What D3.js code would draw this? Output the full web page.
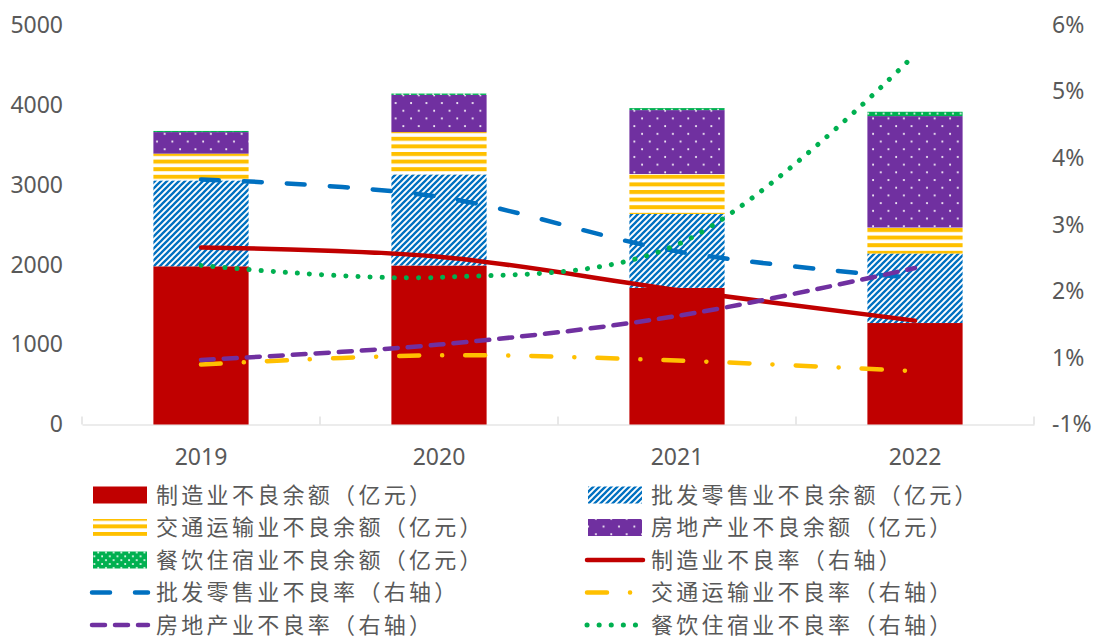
<!DOCTYPE html>
<html><head><meta charset="utf-8">
<script src="https://cdn.jsdelivr.net/npm/d3@7"></script>
<style>
html,body{margin:0;padding:0;background:#fff;}
svg{display:block;font-family:"Noto Sans CJK SC","Noto Sans",sans-serif;}
</style></head>
<body>
<svg id="chart" width="1094" height="641"></svg>
<script>
// ---- data ----
const years = ["2019","2020","2021","2022"];
const mfgBal = [1980, 1990, 1710, 1270];       // 制造业不良余额
const wholesaleBal = [1075, 1140, 925, 870];   // 批发零售业不良余额
const transportBal = [335, 530, 500, 325];     // 交通运输业不良余额
const realEstateBal = [270, 465, 800, 1395];   // 房地产业不良余额
const cateringBal = [14, 17, 25, 54];          // 餐饮住宿业不良余额
const mfgRate = [2.66, 2.52, 2.02, 1.56];      // 制造业不良率 (%)
const wholesaleRate = [3.68, 3.42, 2.60, 2.20];
const transportRate = [0.90, 1.04, 0.96, 0.80];
const realEstateRate = [0.97, 1.20, 1.63, 2.35];
const cateringRate = [2.39, 2.21, 2.70, 5.56];
const leftTicks = [0, 1000, 2000, 3000, 4000, 5000];
const rightTicks = [0, 1, 2, 3, 4, 5, 6];
const rightTickLabels = ["-1%", "1%", "2%", "3%", "4%", "5%", "6%"];

const barSeries = [
  {name:"制造业不良余额（亿元）", values: mfgBal, fill:"#C00000"},
  {name:"批发零售业不良余额（亿元）", values: wholesaleBal, fill:"url(#hatchBlue)"},
  {name:"交通运输业不良余额（亿元）", values: transportBal, fill:"url(#stripeYellow)"},
  {name:"房地产业不良余额（亿元）", values: realEstateBal, fill:"url(#dotPurple)"},
  {name:"餐饮住宿业不良余额（亿元）", values: cateringBal, fill:"url(#dotGreen)"}
];
const lineSeries = [
  {name:"制造业不良率（右轴）", values: mfgRate, color:"#C00000", dash:null, w:4.5},
  {name:"批发零售业不良率（右轴）", values: wholesaleRate, color:"#0070C0", dash:"18 25", w:4.5},
  {name:"交通运输业不良率（右轴）", values: transportRate, color:"#FFC000", dash:"20 23 0.1 23", w:4.5},
  {name:"房地产业不良率（右轴）", values: realEstateRate, color:"#7030A0", dash:"13 10", w:4.5},
  {name:"餐饮住宿业不良率（右轴）", values: cateringRate, color:"#00B050", dash:"0.1 12", w:5}
];

const svg = d3.select("#chart");
const textColor = "#595959";

// ---- patterns ----
const defs = svg.append("defs");
const ph = defs.append("pattern").attr("id","hatchBlue").attr("patternUnits","userSpaceOnUse")
  .attr("width",6).attr("height",6);
ph.append("rect").attr("width",6).attr("height",6).attr("fill","#fff");
ph.append("path").attr("d","M-1,1 l2,-2 M0,6 l6,-6 M5,7 l2,-2").attr("stroke","#0070C0").attr("stroke-width",2.3);

const py = defs.append("pattern").attr("id","stripeYellow").attr("patternUnits","userSpaceOnUse")
  .attr("width",8).attr("height",7.6);
py.append("rect").attr("width",8).attr("height",7.6).attr("fill","#fff");
py.append("rect").attr("y",0).attr("width",8).attr("height",4).attr("fill","#FFC000");

const pp = defs.append("pattern").attr("id","dotPurple").attr("patternUnits","userSpaceOnUse")
  .attr("width",15.4).attr("height",15.4);
pp.append("rect").attr("width",15.4).attr("height",15.4).attr("fill","#7030A0");
pp.append("circle").attr("cx",3).attr("cy",3).attr("r",1).attr("fill","#fff");
pp.append("circle").attr("cx",10.7).attr("cy",10.7).attr("r",1).attr("fill","#fff");

const pg = defs.append("pattern").attr("id","dotGreen").attr("patternUnits","userSpaceOnUse")
  .attr("width",7.7).attr("height",7.7);
pg.append("rect").attr("width",7.7).attr("height",7.7).attr("fill","#00B050");
pg.append("circle").attr("cx",2).attr("cy",2).attr("r",1).attr("fill","#fff");
pg.append("circle").attr("cx",5.85).attr("cy",5.85).attr("r",1).attr("fill","#fff");

// ---- scales ----
const x = d3.scaleBand().domain(years).range([82, 1034]).paddingInner(0.6).paddingOuter(0.3);
const yL = d3.scaleLinear().domain([0,5000]).range([424.5, 25]);
const yR = d3.scaleLinear().domain([0,6]).range([424.5, 25]);

// ---- axes ----
const gx = svg.append("g").attr("transform","translate(0,424.5)")
  .call(d3.axisBottom(x).tickSize(0).tickSizeOuter(0).tickPadding(24));
gx.select(".domain").attr("stroke","#d9d9d9").attr("stroke-width",1.2);
gx.selectAll("text").attr("font-size",23).attr("fill",textColor).attr("font-family","'Noto Sans',sans-serif");
// category boundary tick marks (pointing up)
const edgeXs = years.map(d => x(d) + x.bandwidth()/2 - x.step()/2)
  .concat([x(years[years.length-1]) + x.bandwidth()/2 + x.step()/2]);
svg.append("g").selectAll("line").data(edgeXs).join("line")
  .attr("x1",d=>d).attr("x2",d=>d).attr("y1",424.5).attr("y2",416.5)
  .attr("stroke","#d9d9d9").attr("stroke-width",1.2);

const gl = svg.append("g").attr("transform","translate(72,0)")
  .call(d3.axisLeft(yL).tickValues(leftTicks).tickSize(0).tickPadding(9).tickFormat(d3.format("d")));
gl.select(".domain").remove();
gl.selectAll("text").attr("font-size",23).attr("fill",textColor).attr("font-family","'Noto Sans',sans-serif");

const gr = svg.append("g").attr("transform","translate(1040,0)")
  .call(d3.axisRight(yR).tickValues(rightTicks).tickSize(0).tickPadding(12)
    .tickFormat((d,i) => rightTickLabels[i]));
gr.select(".domain").remove();
gr.selectAll("text").attr("font-size",23).attr("fill",textColor).attr("font-family","'Noto Sans',sans-serif");

// ---- stacked bars ----
const table = years.map((yr,i) => {
  const o = {year: yr};
  barSeries.forEach((s,k) => o["s"+k] = s.values[i]);
  return o;
});
const stack = d3.stack().keys(barSeries.map((s,k)=>"s"+k))(table);
svg.append("g").selectAll("g").data(stack).join("g")
  .attr("fill",(d,k)=>barSeries[k].fill)
  .selectAll("rect").data(d=>d).join("rect")
  .attr("x",d=>x(d.data.year)).attr("width",x.bandwidth())
  .attr("y",d=>yL(d[1])).attr("height",d=>yL(d[0])-yL(d[1]));

// ---- lines ----
const line = d3.line().x((d,i)=>x(years[i])+x.bandwidth()/2).y(d=>yR(d)).curve(d3.curveCatmullRom.alpha(0.5));
svg.append("g").selectAll("path").data(lineSeries).join("path")
  .attr("d",d=>line(d.values)).attr("fill","none")
  .attr("stroke",d=>d.color).attr("stroke-width",d=>d.w)
  .attr("stroke-linecap","round")
  .attr("stroke-dasharray",d=>d.dash);

// ---- legend ----
const legendItems = [
  {type:"bar", s:barSeries[0]}, {type:"bar", s:barSeries[1]},
  {type:"bar", s:barSeries[2]}, {type:"bar", s:barSeries[3]},
  {type:"bar", s:barSeries[4]}, {type:"line", s:lineSeries[0]},
  {type:"line", s:lineSeries[1]}, {type:"line", s:lineSeries[2]},
  {type:"line", s:lineSeries[3]}, {type:"line", s:lineSeries[4]}
];
const colX = [93, 588];
const rowY0 = 495, rowH = 32.5;
const lg = svg.append("g");
legendItems.forEach((it,i) => {
  const col = i % 2, row = Math.floor(i/2);
  const sx = colX[col], cy = rowY0 + row*rowH;
  const g = lg.append("g");
  if (it.type === "bar") {
    g.append("rect").attr("x",sx).attr("y",cy-8.5).attr("width",54).attr("height",17).attr("fill",it.s.fill);
  } else {
    g.append("line").attr("x1",sx-1).attr("x2",sx+55).attr("y1",cy).attr("y2",cy)
      .attr("stroke",it.s.color).attr("stroke-width",it.s.w).attr("stroke-linecap","round")
      .attr("stroke-dasharray",it.s.dash);
  }
  g.append("text").attr("x",sx+63).attr("y",cy).attr("dy","0.35em")
    .attr("font-size",22).attr("letter-spacing",3.3).attr("fill",textColor).text(it.s.name);
});
</script>
</body></html>
